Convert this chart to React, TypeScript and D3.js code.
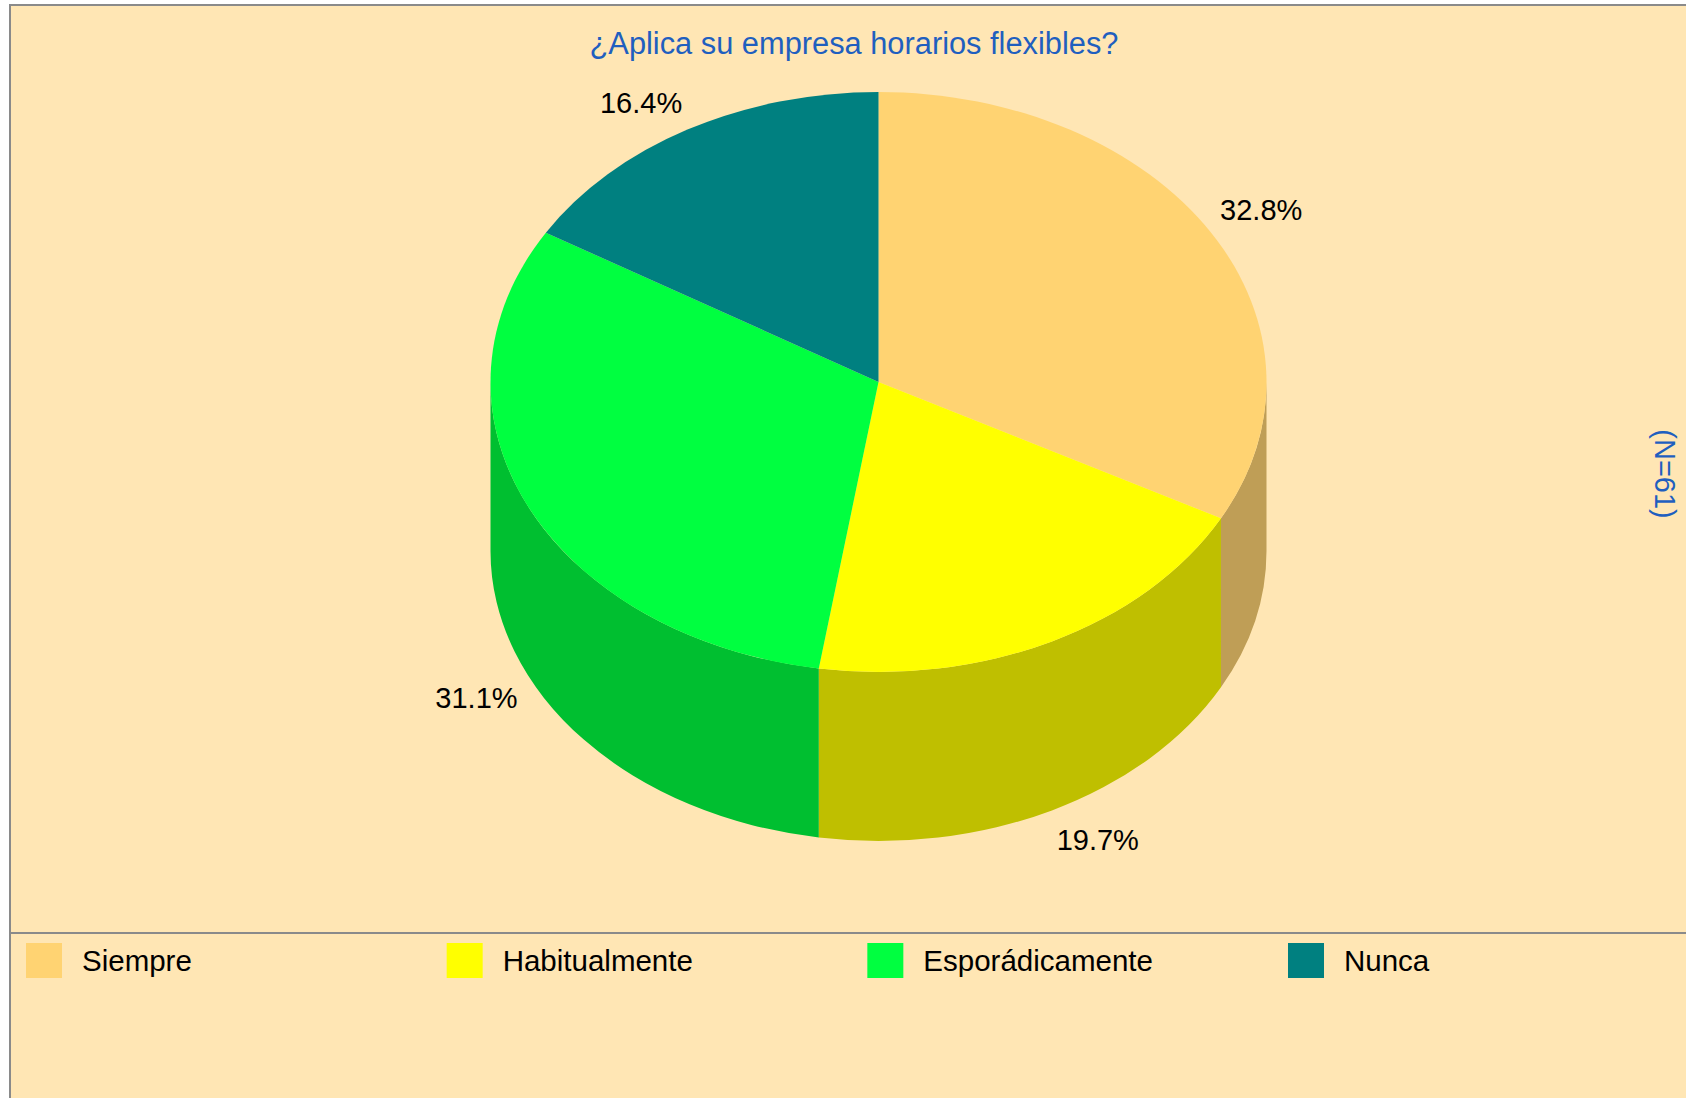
import React, { useEffect, useRef } from "react"
import * as d3 from "d3"

// Data (N = 61 answers)
const categories: string[] = ["Siempre", "Habitualmente", "Esporádicamente", "Nunca"]
const counts: number[] = [20, 12, 19, 10]
const topColors: string[] = ["#FFD372", "#FFFF00", "#00FF40", "#008080"]
const chartTitle = "¿Aplica su empresa horarios flexibles?"
const sampleLabel = "(N=61)"

const width = 1686
const height = 1098

const App: React.FC = () => {
	const ref = useRef<SVGSVGElement>(null)

	useEffect(() => {
		const svg = d3.select(ref.current)
		svg.selectAll("*").remove()

		const font = "'Liberation Sans', Arial, sans-serif"
		const blue = "#1f5fbf"

		// panel + legend separator
		svg.append("rect")
			.attr("x", 10)
			.attr("y", 5)
			.attr("width", 1720)
			.attr("height", 1120)
			.attr("fill", "#FFE6B4")
			.attr("stroke", "#8a8a8a")
			.attr("stroke-width", 2)
		svg.append("line")
			.attr("x1", 10)
			.attr("x2", width)
			.attr("y1", 933)
			.attr("y2", 933)
			.attr("stroke", "#8a8a8a")
			.attr("stroke-width", 2)

		svg.append("text")
			.attr("x", 854)
			.attr("y", 54)
			.attr("text-anchor", "middle")
			.attr("font-family", font)
			.attr("font-size", 30.8)
			.attr("fill", blue)
			.text(chartTitle)

		svg.append("text")
			.attr("transform", "translate(1665,474) rotate(90)")
			.attr("text-anchor", "middle")
			.attr("dy", "0.36em")
			.attr("font-family", font)
			.attr("font-size", 29)
			.attr("fill", blue)
			.text(sampleLabel)

		/* ******************** 3D PIE ******************** */
		const cx = 878.5
		const cy = 382
		const rx = 388
		const ry = 290
		const depth = 169
		const total = d3.sum(counts)

		const pie = d3
			.pie<number>()
			.sort(null)
			.value((d) => d)
		const arcs = pie(counts)

		// angle measured from 12 o'clock, clockwise, on the squashed circle
		const pt = (a: number, off = 0): [number, number] => [
			cx + rx * Math.sin(a),
			cy - ry * Math.cos(a) + off,
		]
		const sideColor = (c: string) => {
			const rgb = d3.rgb(c)
			return d3.rgb(rgb.r * 0.75, rgb.g * 0.75, rgb.b * 0.75).formatHex()
		}

		const gSide = svg.append("g").attr("class", "sides")
		arcs.forEach((d, i) => {
			const s = Math.max(d.startAngle, Math.PI / 2)
			const e = Math.min(d.endAngle, (3 * Math.PI) / 2)
			if (e <= s) return
			const [x0, y0] = pt(s)
			const [x1, y1] = pt(e)
			const [x2, y2] = pt(e, depth)
			const [x3, y3] = pt(s, depth)
			const large = e - s > Math.PI ? 1 : 0
			gSide.append("path")
				.attr(
					"d",
					`M${x0},${y0} A${rx},${ry} 0 ${large} 1 ${x1},${y1} L${x2},${y2} A${rx},${ry} 0 ${large} 0 ${x3},${y3} Z`
				)
				.attr("fill", sideColor(topColors[i]))
		})

		const gTop = svg.append("g").attr("class", "tops")
		arcs.forEach((d, i) => {
			const [x0, y0] = pt(d.startAngle)
			const [x1, y1] = pt(d.endAngle)
			const large = d.endAngle - d.startAngle > Math.PI ? 1 : 0
			gTop.append("path")
				.attr("d", `M${cx},${cy} L${x0},${y0} A${rx},${ry} 0 ${large} 1 ${x1},${y1} Z`)
				.attr("fill", topColors[i])
		})

		// percentage labels around the pie
		const gLab = svg.append("g").attr("class", "labels")
		arcs.forEach((d) => {
			const mid = (d.startAngle + d.endAngle) / 2
			const sx = Math.sin(mid)
			const cyv = Math.cos(mid)
			gLab.append("text")
				.attr("x", cx + rx * 1.027 * sx)
				.attr("y", cy - 303 * cyv + (cyv < 0 ? 187 : -16))
				.attr("dy", "0.36em")
				.attr("text-anchor", sx >= 0 ? "start" : "end")
				.attr("font-family", font)
				.attr("font-size", 29)
				.attr("fill", "#000")
				.text(((d.data / total) * 100).toFixed(1) + "%")
		})

		/* ******************** LEGEND ******************** */
		const legendX = d3
			.scalePoint<string>()
			.domain(categories)
			.range([26, 1288])
		const gLeg = svg.append("g").attr("class", "legend")
		categories.forEach((c, i) => {
			const x = legendX(c) as number
			gLeg.append("rect")
				.attr("x", x)
				.attr("y", 943)
				.attr("width", 36)
				.attr("height", 35)
				.attr("fill", topColors[i])
			gLeg.append("text")
				.attr("x", x + 56)
				.attr("y", 960.5)
				.attr("dy", "0.36em")
				.attr("font-family", font)
				.attr("font-size", 29.5)
				.attr("fill", "#000")
				.text(c)
		})
	}, [])

	return (
		<svg
			ref={ref}
			width={width}
			height={height}
			style={{ position: "absolute", left: 0, top: 0, background: "#fff" }}
		/>
	)
}

export default App
